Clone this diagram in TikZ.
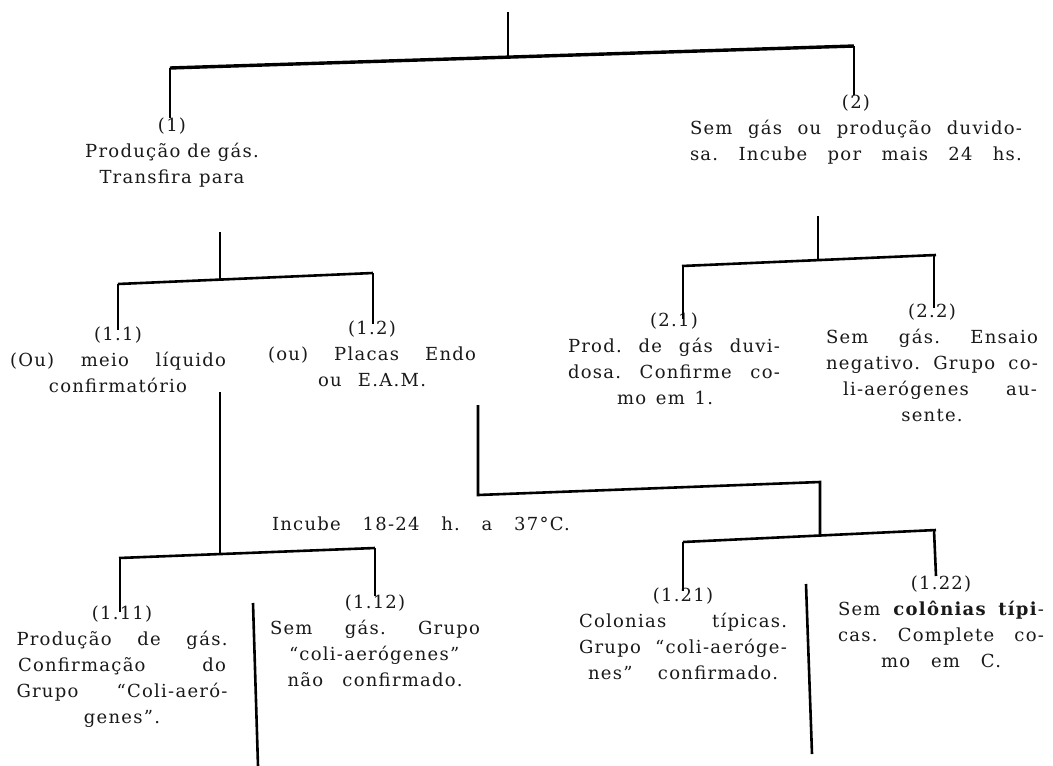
\documentclass[tikz,border=0pt]{standalone}
\usepackage{fontspec}
\setmainfont{DejaVu Serif}[LetterSpace=7]
\newcommand{\jl}[2]{{\frenchspacing\spaceskip=0pt\xspaceskip=0pt\makebox[#1][s]{#2}}}
\begin{document}
\begin{tikzpicture}[x=1pt,y=-1pt,
  tree/.style={line width=2.6pt, black},
  topbar/.style={line width=3.4pt, black},
  lbl/.style={inner sep=0pt, align=center, anchor=north, text=black!90,
              font=\fontsize{18}{26}\selectfont\frenchspacing}]
\useasboundingbox[fill=white] (0,0) rectangle (1053,766);
% ---------- level 0
\coordinate (root) at (508,12);
\coordinate (tM) at (508,57);
\coordinate (tL) at (170,68);
\coordinate (tR) at (854,46);
\node[lbl] (n1) at (172,118) {(1)\\Produção de gás.\\\jl{145pt}{Transfira para}};
\node[lbl, text width=332pt] (n2) at (856,95)
  {(2)\\\jl{332pt}{Sem gás ou produção duvido-}\\\jl{332pt}{sa. Incube por mais 24 hs.}};
\draw[tree] (root) -- (tM);
\draw[topbar] (tL) -- (tR);
\draw[tree] (tL) -- (tL |- n1.north);
\draw[tree] (tR) -- (tR |- n2.north);
% ---------- level 1 left
\coordinate (a0) at (220,232);
\coordinate (aM) at (220,279.6);
\coordinate (aL) at (118,284);
\coordinate (aR) at (373,273);
\node[lbl] (n11) at (118,327) {(1.1)\\\jl{216pt}{(Ou) meio líquido}\\confirmatório};
\node[lbl] (n12) at (372,321) {(1.2)\\\jl{208pt}{(ou) Placas Endo}\\\jl{108pt}{ou E.A.M.}};
\draw[tree] (a0) -- (aM);
\draw[tree] (aL) -- (aR);
\draw[tree] (aL) -- ([yshift=-3pt]aL |- n11.north);
\draw[tree] (aR) -- ([yshift=-3pt]aR |- n12.north);
% ---------- level 1 right
\coordinate (b0) at (818,216);
\coordinate (bM) at (818,260);
\coordinate (bL) at (682,266);
\coordinate (bR) at (936,255);
\node[lbl, text width=212pt] (n21) at (674,313)
  {(2.1)\\\jl{212pt}{Prod. de gás duvi-}\\\jl{212pt}{dosa. Confirme co-}\\\jl{96pt}{mo em 1.}\hspace*{18pt}};
\node[lbl, text width=212pt] (n22) at (932,304)
  {(2.2)\\\jl{212pt}{Sem gás. Ensaio}\\\jl{212pt}{negativo. Grupo co-}\\\hspace*{16pt}\jl{194pt}{li-aerógenes au-}\\sente.};
\draw[tree] (b0) -- (bM);
\draw[tree] (bL) -- (bR);
\draw[tree] ([xshift=1pt]bL) -- ([xshift=1pt,yshift=-6pt]bL |- n21.north);
\draw[tree] ([xshift=-2pt]bR) -- ([xshift=-2pt,yshift=-4pt]bR |- n22.north);
% ---------- level 2 left
\coordinate (c0) at (220,392);
\coordinate (cM) at (220,554);
\coordinate (cL) at (119,558);
\coordinate (cR) at (375,548);
\node[lbl] (inc) at (421,517) {\jl{298pt}{Incube 18-24 h. a 37°C.}};
\node[lbl, text width=211pt] (n111) at (122,606)
  {(1.11)\\\jl{211pt}{Produção de gás.}\\\jl{208pt}{Confirmação do}\\\jl{211pt}{Grupo “Coli-aeró-}\\genes”.};
\node[lbl, text width=210pt] (n112) at (375,595)
  {(1.12)\\\jl{210pt}{Sem gás. Grupo}\\\jl{172pt}{“coli-aerógenes”}\\\jl{175pt}{não confirmado.}};
\draw[tree] (c0) -- (cM);
\draw[tree] (cL) -- (cR);
\draw[tree] ([xshift=1pt]cL) -- ([xshift=1pt,yshift=-6pt]cL |- n111.north);
\draw[tree] (cR) -- ([yshift=-1pt]cR |- n112.north);
\coordinate (sepA1) at (253,603);
\coordinate (sepA2) at (258,766);
\draw[tree] (sepA1) -- (sepA2);
% ---------- level 2 right
\coordinate (d0) at (478,405);
\coordinate (dC) at (478,495);
\coordinate (dE) at (820,482);
\coordinate (dM) at (820,535.5);
\coordinate (dL) at (683,542);
\coordinate (dR) at (936,530);
\node[lbl, text width=208pt] (n121) at (683,588)
  {(1.21)\\\jl{208pt}{Colonias típicas.}\\\jl{208pt}{Grupo “coli-aeróge-}\\\jl{190pt}{nes” confirmado.}};
\node[lbl, text width=206pt] (n122) at (941,576)
  {(1.22)\\\jl{206pt}{Sem \textbf{colônias típi}-}\\\jl{206pt}{cas. Complete co-}\\\jl{120pt}{mo em C.}};
\draw[tree] (d0) -- (dC) -- (dE) -- (dM);
\draw[tree] (dL) -- (dR);
\draw[tree] (dL) -- ([yshift=-3pt]dL |- n121.north);
\draw[tree] ([xshift=-2pt]dR) -- (dR |- n122.north);
\coordinate (sepB1) at (806,584);
\coordinate (sepB2) at (812,754);
\draw[tree] (sepB1) -- (sepB2);
\end{tikzpicture}
\end{document}
